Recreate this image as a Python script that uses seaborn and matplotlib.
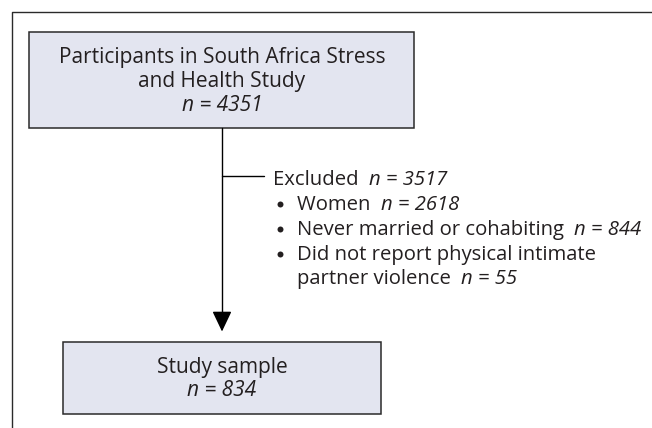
import matplotlib
matplotlib.use("Agg")
import matplotlib.pyplot as plt
import seaborn as sns
from matplotlib.patches import Rectangle

sns.set_theme(style="white")
plt.rcParams['font.family'] = ['Open Sans', 'DejaVu Sans']

# ---- data ----
top_lines = ["Participants in South Africa Stress", "and Health Study"]
top_n = "4351"
excl_label = "Excluded"
excl_n = "3517"
reasons = ["Women", "Never married or cohabiting", "Did not report physical intimate"]
reason_n = ["2618", "844", None]
reason_cont = ["partner violence"]
reason_cont_n = ["55"]
bottom_label = "Study sample"
bottom_n = "834"

TXT = "#231f20"
FILL = "#e3e5f0"
EDGE = "#2a2a2a"
FS_BOX = 15.0
FS = 14.6

W, H = 652, 428
fig = plt.figure(figsize=(W / 100, H / 100), dpi=100)
ax = fig.add_axes([0, 0, 1, 1])
ax.set_xlim(0, W)
ax.set_ylim(H, 0)
ax.axis("off")

CX = 222  # centre line of the flow

# outer frame (cropped)
ax.plot([11.7, 11.7, W], [H, 11.7, 11.7], color=EDGE, lw=1.0)

# top box
ax.add_patch(Rectangle((29.3, 32.3), 384.7, 96, facecolor=FILL, edgecolor=EDGE, lw=1.1))
ax.text(CX, 62.7, top_lines[0], ha="center", va="baseline", fontsize=FS_BOX, color=TXT)
ax.text(CX, 86.7, top_lines[1], ha="center", va="baseline", fontsize=FS_BOX, color=TXT)
ax.text(CX, 110.7, f"n = {top_n}", ha="center", va="baseline", fontsize=FS_BOX, color=TXT,
        style="italic")

# bottom box
ax.add_patch(Rectangle((63.3, 341.7), 317.4, 72.6, facecolor=FILL, edgecolor=EDGE, lw=1.1))
ax.text(CX, 372.7, bottom_label, ha="center", va="baseline", fontsize=FS_BOX, color=TXT)
ax.text(CX, 396.0, f"n = {bottom_n}", ha="center", va="baseline", fontsize=FS_BOX, color=TXT,
        style="italic")

# connector with arrow
ax.plot([CX, CX], [128.3, 320], color="black", lw=1.0)
ax.annotate("", xy=(CX, 331.5), xytext=(CX, 316),
            arrowprops=dict(arrowstyle="-|>,head_length=1.05,head_width=0.5", color="black", lw=1.0,
                            shrinkA=0, shrinkB=0))
ax.plot([CX, 264], [176.2, 176.2], color="black", lw=1.0)


def two_part(x, y, plain, italic_part):
    t = ax.text(x, y, plain + "  ", ha="left", va="baseline", fontsize=FS, color=TXT)
    if italic_part is not None:
        ax.annotate(f"n = {italic_part}", xy=(1, 0), xycoords=t, ha="left", va="bottom",
                    fontsize=FS, color=TXT, style="italic")
    return t


two_part(273.3, 185, excl_label, excl_n)
ys = [210, 235, 260]
for y, r, n in zip(ys, reasons, reason_n):
    ax.plot([280], [y - 6.5], marker="o", ms=4.3, color=TXT, mec="none")
    two_part(296.7, y, r, n)
two_part(296.7, 284, reason_cont[0], reason_cont_n[0])

fig.savefig("out.png", dpi=100)
